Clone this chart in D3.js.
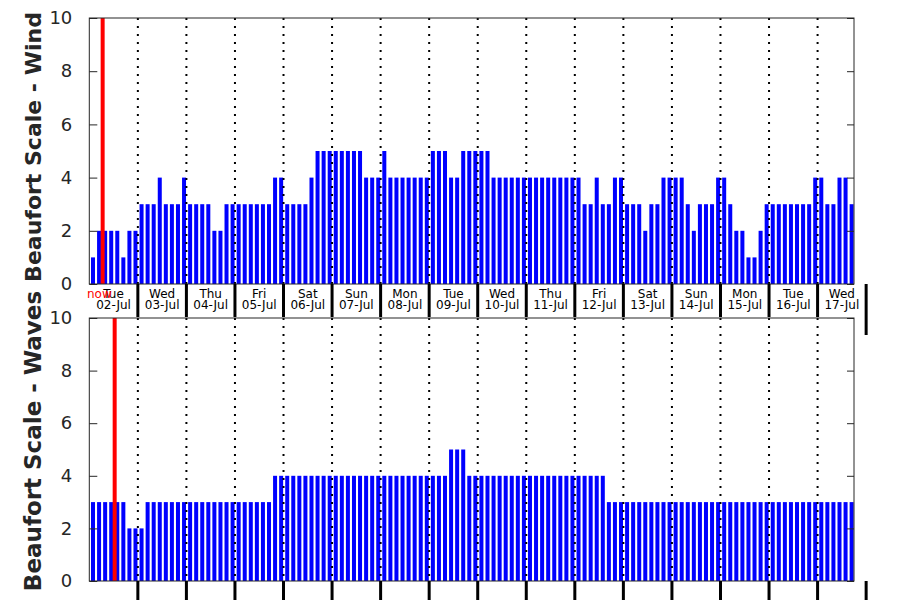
<!DOCTYPE html>
<html>
<head>
<meta charset="utf-8">
<script src="https://cdn.jsdelivr.net/npm/d3@7"></script>
<style>
html,body{margin:0;padding:0;background:#fff;}
svg{display:block;font-family:"DejaVu Sans",sans-serif;}
</style>
</head>
<body>
<svg id="chart" width="900" height="600"></svg>
<script>
// ---- data (3-hourly values, 8 per day) ----
const dayNames = ["Tue","Wed","Thu","Fri","Sat","Sun","Mon","Tue","Wed","Thu","Fri","Sat","Sun","Mon","Tue","Wed"];
const dayDates = ["02-Jul","03-Jul","04-Jul","05-Jul","06-Jul","07-Jul","08-Jul","09-Jul","10-Jul","11-Jul","12-Jul","13-Jul","14-Jul","15-Jul","16-Jul","17-Jul"];
const windValues = [
  1,2,2,2,2,1,2,2,
  3,3,3,4,3,3,3,4,
  3,3,3,3,2,2,3,3,
  3,3,3,3,3,3,4,4,
  3,3,3,3,4,5,5,5,
  5,5,5,5,5,4,4,4,
  5,4,4,4,4,4,4,4,
  5,5,5,4,4,5,5,5,
  5,5,4,4,4,4,4,4,
  4,4,4,4,4,4,4,4,
  4,3,3,4,3,3,4,4,
  3,3,3,2,3,3,4,4,
  4,4,3,2,3,3,3,4,
  4,3,2,2,1,1,2,3,
  3,3,3,3,3,3,3,4,
  4,3,3,4,4,3
];
const waveValues = [
  3,3,3,3,3,3,2,2,
  2,3,3,3,3,3,3,3,
  3,3,3,3,3,3,3,3,
  3,3,3,3,3,3,4,4,
  4,4,4,4,4,4,4,4,
  4,4,4,4,4,4,4,4,
  4,4,4,4,4,4,4,4,
  4,4,4,5,5,5,4,4,
  4,4,4,4,4,4,4,4,
  4,4,4,4,4,4,4,4,
  4,4,4,4,4,3,3,3,
  3,3,3,3,3,3,3,3,
  3,3,3,3,3,3,3,3,
  3,3,3,3,3,3,3,3,
  3,3,3,3,3,3,3,3,
  3,3,3,3,3,3
];
const yTicks = [0,2,4,6,8,10];
const windNow = 2.2;   // in 3-hour slots from start
const waveNow = 4.18;
const slotsPerDay = 8;

// ---- layout ----
const svg = d3.select("#chart");
const x = d3.scaleLinear().domain([0, windValues.length]).range([89.3, 854]);
const dayBounds = d3.range(1, dayNames.length + 1); // 1..16

const panels = [
  {values: windValues, now: windNow, top: 18, bottom: 284, label: "Beaufort Scale - Wind", labelY: 147, labelSize: 22, dayLabels: true},
  {values: waveValues, now: waveNow, top: 318, bottom: 581, label: "Beaufort Scale - Waves", labelY: 441, labelSize: 23, dayLabels: false}
];

panels.forEach(p => {
  const y = d3.scaleLinear().domain([0, 10]).range([p.bottom, p.top]);
  const g = svg.append("g");

  // bars
  g.selectAll("rect.bar").data(p.values).enter().append("rect")
    .attr("class", "bar")
    .attr("x", (d, i) => x(i + 0.28))
    .attr("width", x(0.66) - x(0))
    .attr("y", d => y(d))
    .attr("height", d => y(0) - y(d))
    .attr("fill", "#0000ff");

  // now line
  g.append("line")
    .attr("x1", x(p.now)).attr("x2", x(p.now))
    .attr("y1", y(10)).attr("y2", y(0))
    .attr("stroke", "#ff0000").attr("stroke-width", 4);

  // dotted day separators
  g.selectAll("line.sep").data(dayBounds.filter(d => x(d * slotsPerDay) < 854)).enter().append("line")
    .attr("class", "sep")
    .attr("x1", d => x(d * slotsPerDay)).attr("x2", d => x(d * slotsPerDay))
    .attr("y1", y(10)).attr("y2", y(0))
    .attr("stroke", "#000").attr("stroke-width", 2)
    .attr("stroke-dasharray", "2,6");

  // axis box
  g.append("rect")
    .attr("x", x(0)).attr("y", y(10))
    .attr("width", x(windValues.length) - x(0))
    .attr("height", y(0) - y(10))
    .attr("fill", "none").attr("stroke", "#262626").attr("stroke-width", 1);

  // y axes (left and right, inward ticks)
  const yl = g.append("g").attr("transform", `translate(${x(0)},0)`)
    .call(d3.axisLeft(y).tickValues(yTicks).tickSize(-8).tickPadding(17).tickFormat(d3.format("d")));
  const yr = g.append("g").attr("transform", `translate(${x(windValues.length)},0)`)
    .call(d3.axisRight(y).tickValues(yTicks).tickSize(-7).tickFormat(""));
  [yl, yr].forEach(a => {
    a.select(".domain").remove();
    a.selectAll(".tick line").attr("stroke", "#262626");
  });
  yl.selectAll(".tick text").attr("fill", "#262626").style("font-size", "18px")
    .style("font-family", "DejaVu Sans");

  // x tick marks at day boundaries (thick, outward)
  g.selectAll("line.xt").data(dayBounds).enter().append("line")
    .attr("class", "xt")
    .attr("x1", d => x(d * slotsPerDay)).attr("x2", d => x(d * slotsPerDay))
    .attr("y1", y(0))
    .attr("y2", d => p.dayLabels ? (d === dayBounds.length ? y(0) + 51 : y(0) + 33) : y(0) + 25)
    .attr("stroke", "#000").attr("stroke-width", 3);

  // day labels
  if (p.dayLabels) {
    const lbl = g.selectAll("text.day").data(dayNames).enter().append("text")
      .attr("class", "day")
      .attr("text-anchor", "middle")
      .style("font-size", "12px")
      .attr("fill", "#000");
    lbl.append("tspan")
      .attr("x", (d, i) => x((i + 0.5) * slotsPerDay))
      .attr("y", y(0) + 14)
      .text(d => d);
    lbl.append("tspan")
      .attr("x", (d, i) => x((i + 0.5) * slotsPerDay))
      .attr("y", y(0) + 25)
      .text((d, i) => dayDates[i]);
    g.append("text")
      .attr("x", 87).attr("y", y(0) + 14)
      .attr("fill", "#ff0000")
      .style("font-size", "12px")
      .text("now");
  }

  // y label
  g.append("text")
    .attr("transform", `translate(41,${p.labelY}) rotate(-90)`)
    .attr("text-anchor", "middle")
    .attr("fill", "#262626")
    .style("font-size", p.labelSize + "px")
    .style("font-weight", "bold")
    .text(p.label);
});
</script>
</body>
</html>
